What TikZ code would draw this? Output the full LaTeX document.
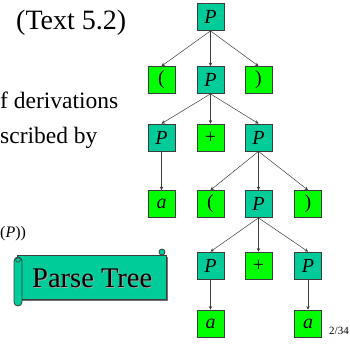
\documentclass[tikz,border=0pt]{standalone}
\usepackage{fontspec}
\setmainfont{Liberation Serif}
\usetikzlibrary{arrows.meta}
\definecolor{nonterm}{RGB}{0,204,153}
\definecolor{term}{RGB}{0,255,0}
\definecolor{edge}{RGB}{60,60,60}
\begin{document}
\begin{tikzpicture}[x=1pt,y=-1pt,
  nt/.style={draw=edge,line width=0.8pt,fill=nonterm,minimum size=27pt,inner sep=0pt,font=\fontsize{20}{20}\selectfont\itshape},
  tm/.style={draw=edge,line width=0.8pt,fill=term,minimum size=27pt,inner sep=0pt,font=\fontsize{20}{20}\selectfont},
  tmi/.style={tm,font=\fontsize{20}{20}\selectfont\itshape},
  link/.style={draw=edge,line width=0.5pt,-{Stealth[length=3.5pt,width=3.5pt]}},
  txt/.style={anchor=base west,inner sep=0pt}]
\useasboundingbox (0,0) rectangle (350,343);
% left texts
\node[txt,font=\fontsize{28}{28}\selectfont] (t1) at (16,29) {(Text 5.2)};
\node[txt,font=\fontsize{23.5}{23.5}\selectfont] (t2) at (0,108) {f derivations};
\node[txt,font=\fontsize{23.5}{23.5}\selectfont] (t3) at (0,143) {scribed by};
\node[txt,font=\fontsize{16}{16}\selectfont] (t4) at (0,237) {(\textit{P}))};
\node[txt,font=\fontsize{11}{11}\selectfont] (pg) at (329,334) {2/34};
% scroll
\fill[black!55] (18.5,256.5) rectangle (167.5,300.5);
\draw[draw=edge,line width=0.8pt,fill=nonterm] (17,255) rectangle (166,299);
\draw[draw=edge,line width=0.8pt,fill=nonterm,rounded corners=4pt] (14,257) rectangle (22,306);
\draw[draw=edge,line width=0.6pt,fill=nonterm] (18,260) circle (2.3);
\draw[draw=edge,line width=0.8pt,fill=nonterm] (162,252) circle (3);
\node[txt,font=\fontsize{28.5}{28.5}\selectfont,text=black!35] at (33,288) {Parse Tree};
\node[txt,font=\fontsize{28.5}{28.5}\selectfont] (pt) at (32,287) {Parse Tree};
% tree
\node[nt] (r)  at (210.5,17) {P};
\node[tm] (l1) at (161.5,80) {(};
\node[nt] (p2) at (210.5,80) {P};
\node[tm] (r1) at (258.5,80) {)};
\node[nt] (p3) at (161.5,137.5) {P};
\node[tm] (s1) at (210.5,137.5) {+};
\node[nt] (p4) at (258.5,137.5) {P};
\node[tmi] (a1) at (161.5,204) {a};
\node[tm] (l2) at (210.5,204) {(};
\node[nt] (p5) at (258.5,204) {P};
\node[tm] (r2) at (308,204) {)};
\node[nt] (p6) at (210.5,265.5) {P};
\node[tm] (s2) at (258.5,265.5) {+};
\node[nt] (p7) at (308,265.5) {P};
\node[tmi] (a2) at (210.5,323.5) {a};
\node[tmi] (a3) at (308,323.5) {a};
\foreach \p/\c in {r/l1,r/p2,r/r1,p2/p3,p2/s1,p2/p4,p3/a1,p4/l2,p4/p5,p4/r2,p5/p6,p5/s2,p5/p7,p6/a2,p7/a3}
  \draw[link] (\p.south) -- (\c.north);
\end{tikzpicture}
\end{document}
